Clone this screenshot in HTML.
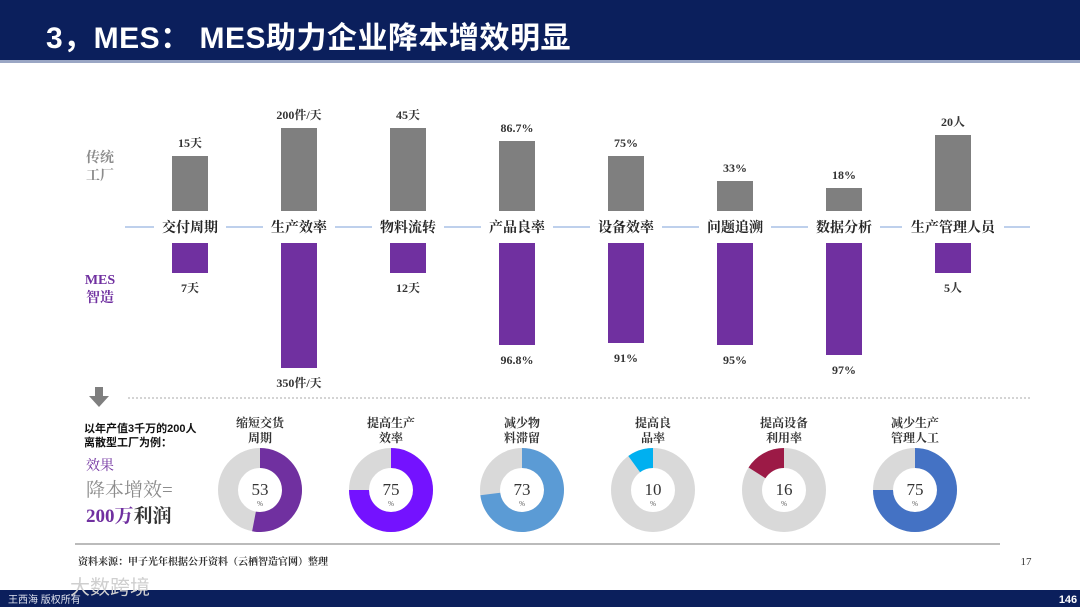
<!DOCTYPE html>
<html><head><meta charset="utf-8">
<style>
body{margin:0;width:1080px;height:607px;overflow:hidden;background:#fff;font-family:"Liberation Serif","Noto Serif CJK SC",serif;position:relative}
.hdr{position:absolute;left:0;top:0;width:1080px;height:60px;background:#0b1f5c;border-bottom:3px solid #9aa6c4}
.hdr h1{margin:0;position:absolute;left:46px;top:13px;color:#fff;font:bold 30px "Liberation Sans","Noto Sans CJK SC",sans-serif;letter-spacing:0.5px}
.foot{position:absolute;left:0;top:590px;width:1080px;height:17px;background:#0b1f5c}
svg{position:absolute;left:0;top:0}
</style></head><body>
<div class="hdr"><h1>3，MES：  MES助力企业降本增效明显</h1></div>
<div class="foot"></div>
<svg id="chart" width="1080" height="607"></svg>
<script>
const categories=["交付周期","生产效率","物料流转","产品良率","设备效率","问题追溯","数据分析","生产管理人员"];
const traditionalValues=[55,83,83,70,55,30,23,76];
const traditionalLabels=["15天","200件/天","45天","86.7%","75%","33%","18%","20人"];
const mesValues=[30,125,30,102,100,102,112,30];
const mesLabels=["7天","350件/天","12天","96.8%","91%","95%","97%","5人"];
const donutTitles=[["缩短交货","周期"],["提高生产","效率"],["减少物","料滞留"],["提高良","品率"],["提高设备","利用率"],["减少生产","管理人工"]];
const donutValues=[53,75,73,10,16,75];
const donutColors=["#7030a0","#7412ff","#5b9bd5","#00b0f0","#9c1a46","#4472c4"];
const donutClockwise=[true,true,true,false,false,true];

const NS="http://www.w3.org/2000/svg";
const svg=document.getElementById("chart");
function mk(tag,attrs,parent){const e=document.createElementNS(NS,tag);for(const k in attrs)e.setAttribute(k,attrs[k]);(parent||svg).appendChild(e);return e;}
function txt(s,x,y,size,fill,attrs){const t=mk("text",Object.assign({x:x,y:y,"font-size":size,fill:fill,"text-anchor":"middle"},attrs||{}));t.textContent=s;return t;}
const xScale=i=>190+i*109;
const axisY=227, topBase=211, botBase=243;
const hScale=v=>v;
const ax=mk("line",{x1:125,y1:axisY,x2:1030,y2:axisY,stroke:"#a9c0e6","stroke-width":1.5});


let l=txt("传统",100,162,14,"#8c8c8c",{"font-weight":"bold"});

l=txt("工厂",100,180,14,"#8c8c8c",{"font-weight":"bold"});

l=txt("MES",100,284,14,"#7030a0",{"font-weight":"bold"});

l=txt("智造",100,302,14,"#7030a0",{"font-weight":"bold"});

categories.forEach((c,i)=>{
  const cx=xScale(i);
  const w=c.length*15+12;
  const bg=mk("rect",{x:cx-w/2,y:axisY-10,width:w,height:20,fill:"#fff"});
  
  const t=txt(c,cx,axisY+5,14,"#262626",{"font-weight":"bold"});
  
  const th=hScale(traditionalValues[i]);
  const r1=mk("rect",{x:cx-18,y:topBase-th,width:36,height:th,fill:"#7f7f7f"});
  
  const t1=txt(traditionalLabels[i],cx,topBase-th-9,12,"#333",{"font-weight":"bold"});
  
  const mh=hScale(mesValues[i]);
  const r2=mk("rect",{x:cx-18,y:botBase,width:36,height:mh,fill:"#7030a0"});
  
  const t2=txt(mesLabels[i],cx,botBase+mh+19,12,"#333",{"font-weight":"bold"});
  
});
const arr=mk("path",{d:"M95 387 h8 v9 h6 l-10 11 l-10 -11 h6 z",fill:"#7f7f7f"});

const dl=mk("line",{x1:128,y1:398,x2:1030,y2:398,stroke:"#aaa","stroke-dasharray":"2,2"});

const side=[["以年产值3千万的200人",84,432,11,"#111",{"text-anchor":"start","font-weight":"bold","font-family":"Liberation Sans,Noto Sans CJK SC,sans-serif"}],
["离散型工厂为例：",84,446,11,"#111",{"text-anchor":"start","font-weight":"bold","font-family":"Liberation Sans,Noto Sans CJK SC,sans-serif"}],
["效果",86,470,14,"#7030a0",{"text-anchor":"start"}],
["降本增效=",86,496,19,"#8c8c8c",{"text-anchor":"start"}]];
side.forEach(s=>{const t=txt(...s);});
const pt=mk("text",{x:86,y:522,"font-size":19,"font-weight":"bold","text-anchor":"start"});

pt.innerHTML='<tspan fill="#7030a0">200万</tspan><tspan fill="#333">利润</tspan>';
const dx=i=>260+i*131, dy=490, R=42, r=22;
function arcPath(cx,cy,a0,a1){
  const p=(a,rad)=>[cx+rad*Math.sin(a),cy-rad*Math.cos(a)];
  const lg=Math.abs(a1-a0)>Math.PI?1:0, sw=a1>a0?1:0;
  const [x0,y0]=p(a0,R),[x1,y1]=p(a1,R),[x2,y2]=p(a1,r),[x3,y3]=p(a0,r);
  return `M${x0} ${y0} A${R} ${R} 0 ${lg} ${sw} ${x1} ${y1} L${x2} ${y2} A${r} ${r} 0 ${lg} ${1-sw} ${x3} ${y3} Z`;
}
donutValues.forEach((v,i)=>{
  const cx=dx(i);
  const g=mk("circle",{cx:cx,cy:dy,r:(R+r)/2,fill:"none",stroke:"#d9d9d9","stroke-width":R-r});
  
  const ang=v/100*2*Math.PI*(donutClockwise[i]?1:-1);
  const s=mk("path",{d:arcPath(cx,dy,0,ang),fill:donutColors[i]});
  
  const t=txt(String(v),cx,dy+5,17,"#333");
  
  const p=txt("%",cx,dy+16,7,"#555");
  
  donutTitles[i].forEach((line,j)=>{
    const tt=txt(line,cx,427+j*15,12,"#333",{"font-weight":"bold"});
    
  });
});
const sep=mk("line",{x1:75,y1:544,x2:1000,y2:544,stroke:"#bbb","stroke-width":2});

let src=txt("资料来源：甲子光年根据公开资料（云栖智造官网）整理",78,565,10,"#333",{"text-anchor":"start","font-weight":"bold"});

let pg=txt("17",1026,565,11,"#333");

let wm=txt("大数跨境",110,594,20,"#cfcfcf",{"font-family":"Liberation Sans,Noto Sans CJK SC,sans-serif"});

let cp=txt("王西海 版权所有",8,603,10,"#dfe3ee",{"text-anchor":"start","font-family":"Liberation Sans,Noto Sans CJK SC,sans-serif"});

let sn=txt("146",1068,603,11,"#fff",{"font-weight":"bold","font-family":"Liberation Sans,sans-serif"});

</script>
</body></html>
